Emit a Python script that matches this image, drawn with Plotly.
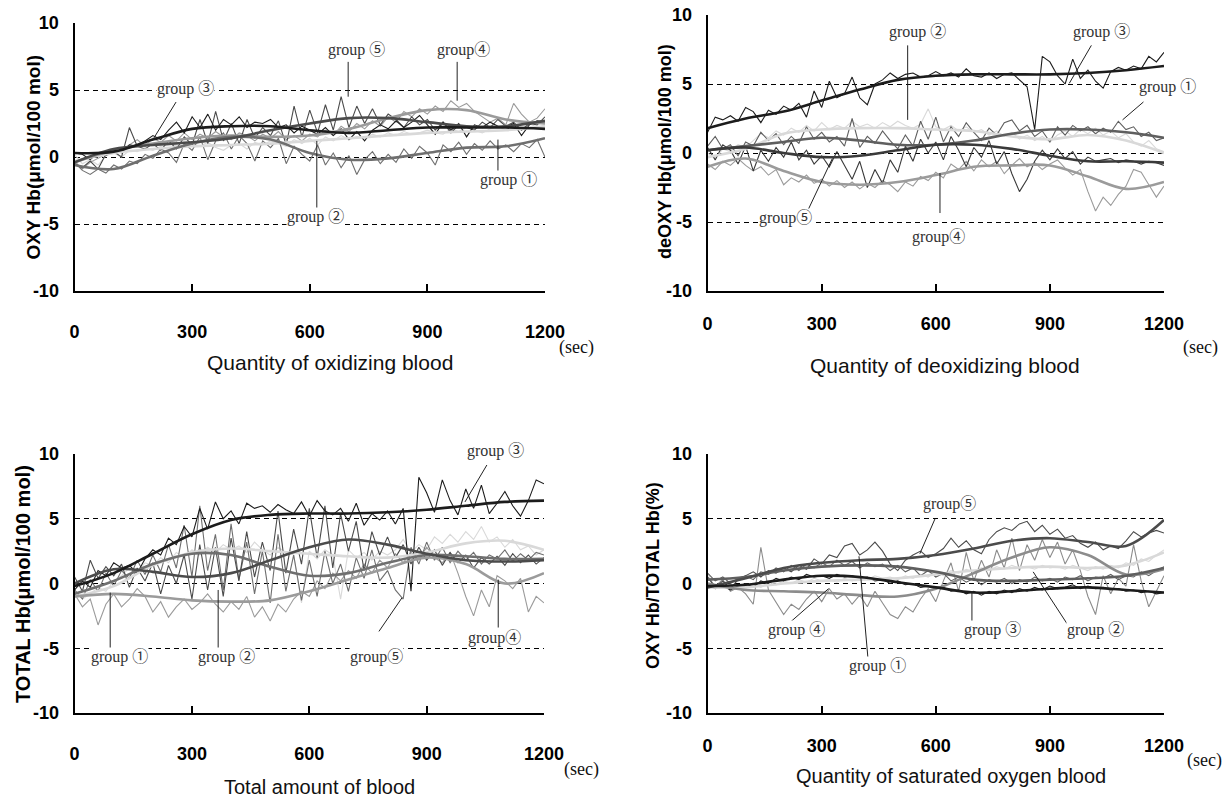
import numpy as np
import plotly.graph_objects as go

W, H = 1226, 797

# ---------------- data ----------------
T_SMOOTH = [0, 100, 200, 300, 400, 500, 600, 700, 800, 900, 1000, 1100, 1200]
X_TICKS = [0, 300, 600, 900, 1200]
Y_TICKS = [-10, -5, 0, 5, 10]
Y_TICK_TEXT = ["-10", "-5", "0", "5", "10"]

# Panel 1 : OXY Hb
P1_G1_RAW = [0.2, -0.5, -0.2, -0.6, 0.1, 0.3, 0.0, 0.5, 0.4, 0.7,
             0.5, 0.8, 0.6, 0.9, 0.7, 1.0, 0.8, 1.1, 0.7, 0.5,
             0.9, 1.0, 0.6, 1.1, 0.9, 1.2, 1.0, 0.8, 1.3, 1.0,
             1.4, 0.9, 1.5, 1.2, 1.6, 1.3, 1.5, 1.4, 1.7, 1.5,
             1.8, 1.6, 1.9, 1.7, 1.8, 2.0, 1.8, 1.7, 2.1, 1.9,
             2.2, 2.0, 1.8, 2.1, 2.3, 2.0, 2.4, 2.1, 2.5, 2.2,
             2.4]
P1_G2_RAW = [-0.4, -1.0, -1.3, -0.9, -1.2, -0.6, -0.9, -0.3, -0.5, 0.2,
             -0.1, 0.6, 0.3, -0.4, 1.0, 0.5, 1.5, -0.2, 1.2, 1.8,
             0.6, 1.6, 1.0, -0.3, 1.2, 0.7, 1.4, -0.5, 0.8, 0.2,
             -0.3, 0.9, -0.6, 0.3, -0.8, 0.1, -1.3, -0.2, 0.4, -0.5,
             0.2, -0.4, 0.6, -0.1, 0.8, 0.3, -0.6, 0.9, 0.4, 1.1,
             0.2, 1.0, 0.5, 1.2, 0.6, 0.9, 0.4, 1.0, 0.7, 1.3,
             0.0]
P1_G3_RAW = [0.3, 0.2, -0.2, 0.3, 0.1, 0.5, 0.4, 0.9, 0.8, 1.2,
             1.6, 1.3, 2.0, 2.6, 1.8, 3.0, 2.2, 3.2, 2.0, 2.8,
             2.4, 3.0, 2.2, 2.6, 2.5, 2.8, 2.2, 2.4, 1.8, 2.3,
             2.0, 1.7, 2.2, 1.6, 2.1, 1.3, 1.9, 1.2, 2.0, 2.4,
             2.1, 2.7, 2.2, 2.6, 3.1, 2.4, 1.7, 2.6, 2.0, 2.5,
             1.5, 2.4, 2.2, 2.6, 2.3, 2.2, 2.5, 1.6, 2.4, 2.7,
             2.6]
P1_G4_RAW = [-0.3, -0.9, -0.4, -0.1, 0.2, 0.6, 0.3, 0.9, 1.3, 0.8,
             1.4, 1.1, 1.6, 1.2, 1.8, 1.3, 1.7, 1.4, 1.9, 1.5,
             1.3, 1.8, 1.6, 1.2, 1.7, 1.4, 1.9, 1.3, 1.6, 1.2,
             1.7, 1.5, 2.0, 1.6, 2.3, 1.9, 2.5, 2.1, 2.7, 2.3,
             3.0, 2.6, 3.4, 3.0, 3.6, 3.2, 3.8, 3.4, 4.2, 3.7,
             4.0, 3.4, 3.0, 2.6, 2.9, 2.4, 4.0, 3.2, 2.6, 2.9,
             3.6]
P1_G5_RAW = [-0.5, -0.8, -0.3, -0.9, 0.2, 0.4, 0.0, 2.2, 0.8, 0.6,
             1.0, 0.5, 1.2, 0.6, 1.5, 0.9, 2.8, 1.0, 3.4, 1.2,
             2.5, 1.0, 2.8, 1.4, 2.2, 1.6, 2.7, 0.9, 3.8, 1.5,
             3.5, 1.8, 3.9, 2.0, 4.5, 2.2, 3.8, 2.5, 3.6, 2.4,
             3.2, 2.8, 2.2, 3.0, 2.4, 2.8, 2.0, 2.6, 1.8, 2.4,
             2.2, 2.0, 2.6, 2.2, 2.8, 2.3, 2.6, 2.0, 2.5, 2.4,
             3.0]
P1_G1_FIT = [-0.3, 0.3, 0.6, 0.8, 0.9, 1.0, 1.2, 1.4, 1.6, 1.8, 1.9, 2.0, 2.3]
P1_G2_FIT = [-0.6, -0.9, 0.1, 1.0, 1.5, 1.3, 0.3, -0.2, -0.1, 0.3, 0.7, 0.8, 1.4]
P1_G3_FIT = [0.3, 0.4, 1.3, 2.1, 2.3, 2.3, 2.0, 1.8, 2.0, 2.2, 2.2, 2.2, 2.1]
P1_G4_FIT = [-0.4, 0.5, 1.0, 1.4, 1.6, 1.5, 1.6, 2.1, 2.9, 3.5, 3.5, 2.8, 2.5]
P1_G5_FIT = [-0.4, 0.6, 0.9, 1.1, 1.4, 2.0, 2.5, 2.9, 2.9, 2.6, 2.3, 2.3, 2.7]

# Panel 2 : deOXY Hb
P2_G1_RAW = [0.5, 1.2, 0.3, 0.6, -0.2, 0.8, 0.5, 1.5, 0.9, 1.4,
             0.6, 1.2, 0.7, 1.9, 1.0, 1.5, 0.8, 1.2, 0.5, 2.5,
             0.4, 1.2, 0.7, 1.6, 0.9, 0.3, 1.3, 0.5, 2.3, 1.0,
             2.6, 0.8, 1.9, 1.2, 2.2, 1.5, 0.9, 1.8, 1.3, 2.2,
             2.4, 1.6, 2.0, 1.2, 1.6, 0.8, 1.9, 1.3, 2.0, 1.6,
             1.9, 1.4, 1.8, 1.5, 2.3, 1.7, 1.9, 1.2, 1.5, 0.9,
             1.1]
P2_G2_RAW = [0.0, -0.4, 0.3, 0.1, 0.6, 0.4, 0.9, 1.4, 1.1, 1.6,
             1.3, 1.8, 1.5, 2.0, 1.6, 2.2, 1.7, 2.0, 1.8, 2.3,
             1.9, 2.1, 1.8, 2.2, 1.9, 2.3, 2.0, 1.8, 2.1, 3.2,
             1.9, 1.7, 2.0, 1.6, 1.9, 1.5, 1.7, 1.3, 1.6, 1.2,
             1.5, 1.0, 1.3, 0.9, 1.2, 0.8, 1.3, 1.6, 1.2, 1.7,
             1.4, 1.8, 1.3, 1.6, 1.1, 1.4, 0.8, 0.5, 0.9, 0.3,
             0.1]
P2_G3_RAW = [1.5, 2.6, 2.4, 2.7, 2.3, 3.3, 3.0, 2.2, 3.1, 2.8,
             3.4, 3.1, 3.6, 2.6, 4.5, 3.3, 5.2, 4.0, 4.3, 5.5,
             4.0, 3.5, 5.0, 5.3, 5.8, 5.4, 5.7, 5.8, 5.5, 5.6,
             5.9, 5.6, 5.8, 5.5, 6.1, 5.6, 5.5, 5.8, 5.4, 5.7,
             5.8, 5.3, 4.8, 1.7, 7.0, 6.6, 5.6, 5.0, 6.8, 5.4,
             6.0, 5.2, 4.7, 5.9, 6.2, 6.0, 6.3, 6.1, 7.0, 6.6,
             7.3]
P2_G4_RAW = [-0.8, -1.2, -0.6, -0.9, -0.4, -0.9, -1.3, -1.0, -1.6, -1.2,
             -2.3, -1.8, -2.1, -1.6, -2.2, -1.9, -2.4, -2.0, -2.5, -2.1,
             -2.6, -2.2, -2.5, -2.0, -2.3, -2.8, -2.1, -2.4, -1.7, -2.0,
             -1.4, -1.8, -0.8, -1.2, -0.6, -1.3, -0.5, -1.0, -0.6, -1.5,
             -0.9, -0.4, -1.0, -0.7, -1.2, -0.8, -0.5, -1.1, -1.6, -1.2,
             -2.8, -4.2, -3.2, -3.8, -3.0, -2.4, -1.2, -1.4, -2.3, -3.2,
             -2.4]
P2_G5_RAW = [0.4, -0.5, 0.6, 0.2, -0.8, 0.5, -1.3, 0.2, -0.6, 0.4,
             -0.3, 0.8, -0.5, 0.2, -0.8, -0.2, -1.0, 0.1, -0.9, -1.9,
             -0.6, -2.5, -1.2, -2.2, -0.5, -1.4, 0.5, -0.6, 1.0, 0.0,
             0.8, -0.5, 1.2, 0.2, -1.0, 0.4, -0.3, 0.9, -0.8, 0.1,
             -1.5, -2.8, -1.9, -0.6, 0.2, -0.5, 0.3, -0.4, 0.1, -0.8,
             -0.3, -0.6, -0.5, -0.4, -0.7, -0.5, -0.6, -0.8, -0.6, -0.7,
             -0.9]
P2_G1_FIT = [0.2, 0.5, 0.8, 1.1, 0.9, 0.6, 0.6, 0.9, 1.4, 1.7, 1.7, 1.5, 1.1]
P2_G2_FIT = [-0.3, 0.3, 1.4, 1.7, 1.8, 1.8, 1.7, 1.6, 1.2, 1.0, 1.3, 0.9, 0.0]
P2_G3_FIT = [1.8, 2.5, 3.0, 3.8, 4.6, 5.3, 5.6, 5.7, 5.7, 5.7, 5.8, 6.0, 6.3]
P2_G4_FIT = [-1.0, -0.4, -1.3, -2.1, -2.3, -2.1, -1.6, -1.0, -0.9, -0.9, -1.7, -2.6, -2.1]
P2_G5_FIT = [0.2, 0.4, 0.0, -0.3, -0.2, 0.2, 0.6, 0.6, 0.3, -0.2, -0.6, -0.6, -0.7]

# Panel 3 : TOTAL Hb
P3_G1_RAW = [-0.6, -1.2, -0.8, -0.3, -0.6, 0.2, 0.6, 1.2, 0.8, 1.6,
             1.4, 2.0, 1.6, 2.4, 2.0, 2.6, 2.2, 2.8, 2.4, 3.0,
             2.6, 2.9, 2.4, 3.2, 2.6, 2.2, 2.8, 2.4, 2.2, -1.5,
             2.5, 1.9, 2.6, 2.2, -1.2, 2.6, 2.0, 2.4, 1.8, 2.5,
             2.2, 2.6, 3.4, 2.4, 3.0, 2.6, 3.6, 3.1, 3.8, 3.2,
             4.0, 3.4, 4.4, 3.2, 3.6, 2.8, 3.4, 2.6, 2.9, 2.2,
             2.6]
P3_G2_RAW = [0.5, -0.6, 1.8, 0.4, 1.3, 0.6, 1.5, -0.3, 1.2, 0.2,
             1.6, -0.8, 1.4, 0.0, 2.2, -1.2, 3.0, -0.5, 2.8, -1.0,
             3.5, 0.2, 4.0, 0.5, 3.2, 1.0, 5.6, 0.8, 4.2, 1.5,
             5.8, 2.0, 6.0, 1.2, 5.4, 2.5, 4.8, 1.0, 4.0, 2.2,
             3.6, 2.0, 3.0, 1.5, 2.8, 1.8, 2.6, 1.4, 2.4, 1.6,
             2.2, 1.2, 2.0, 1.5, 2.1, 1.4, 2.3, 1.6, 2.2, 1.5,
             2.0]
P3_G3_RAW = [-0.5, 0.2, -0.3, 1.0, 0.6, 1.6, 1.2, 1.4, 0.8, 1.9,
             2.6, 2.2, 3.5, 3.0, 4.4, 3.6, 5.8, 4.2, 6.3, 5.0,
             5.6, 4.6, 6.2, 5.8, 6.0, 5.5, 6.1, 5.7, 5.4, 6.3,
             5.2, 6.4, 5.6, 5.3, 5.8, 4.8, 6.2, 4.5, 5.4, 4.9,
             5.6, 4.6, 5.8, -0.6, 8.2, 7.0, 5.5, 8.0, 6.4, 5.3,
             7.3, 5.8, 7.6, 5.4, 6.2, 7.1, 6.0, 5.2, 6.4, 8.0,
             7.7]
P3_G4_RAW = [-0.8, -1.8, -1.2, -3.2, -1.6, -0.8, -1.8, -1.2, -0.4, -1.0,
             -2.2, -1.4, -2.6, -1.8, -1.2, -2.0, -1.5, -0.8, -1.6, -2.2,
             -1.4, -2.0, -1.0, -2.6, -1.8, -2.9, -1.6, -2.2, -1.2, -0.6,
             -1.0, 0.2, -0.4, 0.8, 0.2, 1.0, 0.4, 1.5, 0.8, 1.8,
             1.2, 2.3, 1.6, 2.4, 1.8, 2.8, 2.0, 1.6, 2.4, 0.8,
             -1.0, -2.5, -0.5, -1.8, 0.6, 0.2, -0.4, 0.4, -2.2, -1.0,
             -1.5]
P3_G5_RAW = [-0.5, -1.2, 0.3, -0.6, 0.8, -0.2, 1.0, 0.4, 1.8, 0.7,
             2.2, 0.9, 3.0, 1.2, 4.5, 0.5, 6.0, 1.0, 3.8, -0.5,
             4.6, 0.3, 3.2, -0.8, 2.5, -1.5, 3.8, -0.6, 2.2, -1.3,
             1.8, -1.0, 2.5, 0.0, 1.5, -0.6, 2.0, 0.4, 2.6, 0.2,
             1.0, -0.5, -1.2, 2.8, 1.5, 3.2, 1.8, 2.8, 1.6, 2.5,
             1.8, 2.4, 1.5, 2.2, 1.9, 2.6, 1.7, 2.3, 1.8, 2.4,
             2.2]
P3_G1_FIT = [-1.0, -0.2, 1.4, 2.4, 2.7, 2.5, 2.3, 2.1, 2.0, 2.4, 3.1, 3.3, 2.6]
P3_G2_FIT = [0.0, 1.1, 0.9, 0.5, 0.8, 1.8, 2.8, 3.4, 3.0, 2.3, 1.8, 1.7, 1.8]
P3_G3_FIT = [-0.2, 0.8, 2.3, 3.8, 4.9, 5.3, 5.4, 5.4, 5.5, 5.7, 6.0, 6.3, 6.4]
P3_G4_FIT = [-1.0, -0.8, -1.0, -1.3, -1.4, -1.3, -0.6, 0.3, 1.2, 2.0, 1.5, 0.0, 0.8]
P3_G5_FIT = [-0.8, 0.2, 1.5, 2.3, 2.2, 1.3, 0.6, 0.8, 1.6, 2.2, 2.1, 1.9, 1.9]

# Panel 4 : OXY Hb / TOTAL Hb
P4_G1_RAW = [0.8, 0.2, 0.5, 0.0, 0.4, 0.6, 0.3, 0.9, 0.7, 1.2,
             0.9, 1.4, 1.0, 1.5, 1.2, 1.6, 1.3, 1.8, 1.4, 1.7,
             1.2, 1.6, 1.3, 1.5, 1.0, 1.4, 0.9, 1.2, 0.6, 1.0,
             0.5, 0.8, 0.2, 0.5, 0.1, 0.4, -0.1, 0.3, 0.1, 0.4,
             0.0, 0.3, 0.1, 0.5, 0.2, 0.4, 0.1, 0.5, 0.3, 0.6,
             0.2, 0.5, 0.4, 0.7, 0.3, 0.6, 0.5, 0.9, 0.6, 1.0,
             1.3]
P4_G2_RAW = [0.8, -0.4, 0.2, -0.5, -0.2, -0.4, 0.0, -0.3, 0.1, -0.1,
             0.2, 0.0, 0.3, 0.1, 0.4, 0.2, 0.3, 0.1, 0.4, 0.2,
             0.5, 0.3, 0.6, 0.4, 0.5, 0.3, 0.6, 0.4, 0.7, 0.5,
             0.9, 0.6, 1.0, 0.8, 1.1, 0.9, 1.2, 1.0, 1.3, 1.1,
             1.4, 1.2, 1.3, 1.1, 1.4, 1.2, 1.3, 1.1, 1.4, 1.2,
             1.0, 1.3, 1.1, 1.4, 1.2, 1.6, 1.4, 1.9, 1.7, 2.2,
             2.6]
P4_G3_RAW = [-0.1, -0.4, -0.2, -0.5, -0.2, 0.0, -0.3, 0.2, 0.0, 0.4,
             0.2, 0.5, 0.3, 0.7, 0.5, 0.6, 0.4, 0.7, 0.5, 0.6,
             0.4, 0.5, 0.2, 0.3, 0.0, 0.2, -0.1, 0.0, -0.3, -0.2,
             -0.4, -0.3, -0.6, -0.5, -0.8, -0.6, -0.9, -0.6, -0.8, -0.5,
             -0.7, -0.4, -0.6, -0.3, -0.5, -0.2, -0.4, -0.3, -0.1, -0.4,
             -0.2, -0.4, -0.3, -0.5, -0.4, -0.6, -0.5, -0.7, -0.6, -0.8,
             -0.7]
P4_G4_RAW = [0.5, -0.2, 0.3, -0.6, -0.3, -0.8, -1.6, 2.8, -0.5, -1.5,
             -2.4, -1.6, -2.0, -1.2, -0.6, -1.4, -0.4, -1.2, -0.8, -1.6,
             -0.9, -1.8, -0.6, -1.5, -2.4, -2.7, -1.8, -2.2, -1.2, -0.4,
             -1.4, 0.2, 1.6, -0.6, 2.4, 0.2, 1.8, 0.5, 2.6, 1.2,
             3.5, 1.0, 3.0, 1.8, 3.4, 2.0, 3.2, 1.5, 2.6, 1.0,
             -1.0, -2.4, 0.6, -0.8, 0.4, -0.2, 3.0, 0.2, -1.8, -0.6,
             0.6]
P4_G5_RAW = [0.5, -0.3, 0.2, -0.4, 0.3, 0.6, 0.9, 0.5, 1.0, 0.8,
             1.2, 0.9, 1.4, 1.1, 1.9, 1.5, 2.2, 2.0, 2.9, 3.1,
             2.2, 2.6, 3.2, 2.5, 1.5, 1.0, 1.8, 2.2, 2.5, 2.0,
             2.3, 2.7, 3.5, 2.8, 3.3, 2.6, 2.3, 3.4, 4.0, 4.3,
             4.1, 4.6, 4.8, 4.0, 4.5, 3.8, 4.2, 3.5, 3.7, 3.1,
             2.8, 3.2, 2.6, 2.9, 2.7, 3.3, 4.0, 3.6, 3.9, 4.1,
             3.9]
P4_G1_FIT = [0.3, 0.5, 1.0, 1.3, 1.4, 1.3, 0.9, 0.3, 0.2, 0.3, 0.4, 0.6, 1.2]
P4_G2_FIT = [-0.3, -0.3, 0.0, 0.2, 0.3, 0.4, 0.7, 1.0, 1.2, 1.3, 1.2, 1.4, 2.4]
P4_G3_FIT = [-0.2, -0.1, 0.3, 0.6, 0.5, 0.1, -0.3, -0.7, -0.6, -0.4, -0.3, -0.5, -0.7]
P4_G4_FIT = [0.0, -0.5, -0.6, -0.7, -0.9, -1.0, -0.4, 0.8, 2.0, 2.8, 2.2, 0.7, 1.1]
P4_G5_FIT = [-0.3, 0.4, 1.2, 1.6, 1.8, 1.9, 2.2, 2.7, 3.3, 3.5, 3.2, 2.9, 4.9]

# ---------------- styles ----------------
BLACK = "#1c1c1c"
DARK = "#4b4b4b"
DARK2 = "#3a3a3a"
MID = "#6f6f6f"
MID2 = "#5f5f5f"
LIGHT = "#9b9b9b"
LIGHT2 = "#8c8c8c"
VLIGHT = "#d9d9d9"

SERIF = "Liberation Serif, Noto Sans CJK JP, serif"
SANS = "Liberation Sans, Arial, sans-serif"


def pxx(x):
    return x / W


def pxy(y):
    return 1 - y / H


panels = [
    dict(
        sfx="", ydom=(23, 291), xdom=(74.5, 545),
        raw=[P1_G1_RAW, P1_G2_RAW, P1_G3_RAW, P1_G4_RAW, P1_G5_RAW],
        fit=[P1_G1_FIT, P1_G2_FIT, P1_G3_FIT, P1_G4_FIT, P1_G5_FIT],
        colors=[VLIGHT, MID, BLACK, LIGHT, DARK],
        order=[0, 3, 1, 4, 2],
        ytitle="OXY Hb(μmol/100 mol)", ytitle_pos=(32.5, 158), ytitle_size=19,
        xtitle="Quantity of oxidizing blood", xtitle_pos=(330, 362), xtitle_size=21,
        sec_pos=(576, 348), standoff=23,
        labels=[("group ③", 282, 5.1), ("group ⑤", 718, 8.0), ("group④", 991, 8.0),
                ("group ②", 615, -4.5), ("group ①", 1106, -1.75)],
        pointers=[(259, 4.1, 200, 1.3), (698, 7.1, 698, 4.5), (976, 7.1, 976, 4.2),
                  (618, -3.9, 618, 1.2), (1080, -1.1, 1080, 1.3)],
    ),
    dict(
        sfx="2", ydom=(15, 291), xdom=(707.6, 1164),
        raw=[P2_G1_RAW, P2_G2_RAW, P2_G3_RAW, P2_G4_RAW, P2_G5_RAW],
        fit=[P2_G1_FIT, P2_G2_FIT, P2_G3_FIT, P2_G4_FIT, P2_G5_FIT],
        colors=[MID2, VLIGHT, BLACK, LIGHT, DARK2],
        order=[1, 3, 0, 4, 2],
        ytitle="deOXY Hb(μmol/100 mol)", ytitle_pos=(665, 152), ytitle_size=18,
        xtitle="Quantity of deoxidizing blood", xtitle_pos=(945, 365), xtitle_size=21,
        sec_pos=(1200, 348), standoff=15,
        labels=[("group ②", 551, 8.77), ("group ③", 1035, 8.77), ("group ①", 1208, 4.78),
                ("group⑤", 206, -4.7), ("group④", 606, -6.1)],
        pointers=[(526, 7.8, 526, 2.4), (1009, 7.8, 951, 5.05), (1146, 3.7, 1091, 2.4),
                  (256, -4.6, 328, -0.4), (611, -4.35, 611, -1.45)],
    ),
    dict(
        sfx="3", ydom=(454, 713), xdom=(74.6, 544),
        raw=[P3_G1_RAW, P3_G2_RAW, P3_G3_RAW, P3_G4_RAW, P3_G5_RAW],
        fit=[P3_G1_FIT, P3_G2_FIT, P3_G3_FIT, P3_G4_FIT, P3_G5_FIT],
        colors=[VLIGHT, DARK, BLACK, LIGHT, MID],
        order=[0, 3, 4, 1, 2],
        ytitle="TOTAL Hb(μmol/100 mol)", ytitle_pos=(23, 584), ytitle_size=20,
        xtitle="Total amount of blood", xtitle_pos=(319, 787), xtitle_size=20,
        sec_pos=(581, 769), standoff=23,
        labels=[("group ①", 116, -5.68), ("group ②", 389, -5.68), ("group⑤", 773, -5.68),
                ("group④", 1073, -4.2), ("group ③", 1075, 10.25)],
        pointers=[(91, -5.1, 91, -0.7), (367, -5.1, 367, -0.5), (778, -3.7, 837, -1.1),
                  (1083, -3.4, 1083, 0.3), (1054, 9.15, 998, 6.3)],
    ),
    dict(
        sfx="4", ydom=(454, 713), xdom=(707.6, 1164),
        raw=[P4_G1_RAW, P4_G2_RAW, P4_G3_RAW, P4_G4_RAW, P4_G5_RAW],
        fit=[P4_G1_FIT, P4_G2_FIT, P4_G3_FIT, P4_G4_FIT, P4_G5_FIT],
        colors=[MID2, VLIGHT, BLACK, LIGHT2, DARK],
        order=[1, 3, 0, 4, 2],
        ytitle="OXY Hb/TOTAL Hb(%)", ytitle_pos=(653, 576), ytitle_size=18,
        xtitle="Quantity of saturated oxygen blood", xtitle_pos=(951, 776), xtitle_size=20,
        sec_pos=(1204, 760), standoff=15,
        labels=[("group⑤", 637, 6.14), ("group ④", 233, -3.6), ("group ①", 446, -6.4),
                ("group ③", 750, -3.6), ("group ②", 1019, -3.6)],
        pointers=[(598, 5.0, 558, 2.3), (209, -3.2, 318, -0.4), (422, -5.9, 398, 2.1),
                  (695, -3.2, 695, -0.6), (945, -3.1, 856, 0.9)],
    ),
]

fig = go.Figure()
annotations = []
shapes = []

for p in panels:
    sfx = p["sfx"]
    xa, ya = "x" + sfx, "y" + sfx
    for gi in p["order"]:
        vals = p["raw"][gi]
        tx = np.linspace(0, 1200, len(vals))
        fig.add_trace(go.Scatter(x=tx, y=vals, mode="lines", xaxis=xa, yaxis=ya,
                                 line=dict(color=p["colors"][gi], width=1.1),
                                 hoverinfo="skip", showlegend=False))
    for gi in p["order"]:
        fig.add_trace(go.Scatter(x=T_SMOOTH, y=p["fit"][gi], mode="lines", xaxis=xa, yaxis=ya,
                                 line=dict(color=p["colors"][gi], width=2.6, shape="spline", smoothing=1.0),
                                 hoverinfo="skip", showlegend=False))

    xd = [pxx(p["xdom"][0]), pxx(p["xdom"][1])]
    yd = [pxy(p["ydom"][1]), pxy(p["ydom"][0])]
    fig.layout["xaxis" + sfx] = dict(
        domain=xd, anchor=ya, range=[0, 1200], tickvals=X_TICKS, automargin=False,
        showline=True, linecolor="black", linewidth=2,
        ticks="inside", ticklen=7, tickwidth=2, tickcolor="black",
        showgrid=False, zeroline=False, fixedrange=True,
        ticklabelstandoff=p["standoff"],
        tickfont=dict(family=SANS, size=18, color="black", weight="bold"),
    )
    fig.layout["yaxis" + sfx] = dict(
        domain=yd, anchor=xa, range=[-10, 10], tickvals=Y_TICKS, ticktext=Y_TICK_TEXT,
        automargin=False,
        showline=True, linecolor="black", linewidth=2, ticks="",
        showgrid=True, gridcolor="black", gridwidth=1, griddash="5px,4px",
        zeroline=False, fixedrange=True, ticklabelstandoff=10,
        tickfont=dict(family=SANS, size=18, color="black", weight="bold"),
    )

    def to_paper(s, v, xd=xd, yd=yd):
        return (xd[0] + s / 1200.0 * (xd[1] - xd[0]),
                yd[0] + (v + 10) / 20.0 * (yd[1] - yd[0]))

    tx_, ty_ = p["ytitle_pos"]
    annotations.append(dict(text=p["ytitle"], x=pxx(tx_), y=pxy(ty_), xref="paper", yref="paper",
                            showarrow=False, textangle=-90, xanchor="center", yanchor="middle",
                            font=dict(family=SANS, size=p["ytitle_size"], color="black", weight="bold")))
    tx_, ty_ = p["xtitle_pos"]
    annotations.append(dict(text=p["xtitle"], x=pxx(tx_), y=pxy(ty_), xref="paper", yref="paper",
                            showarrow=False, xanchor="center", yanchor="middle",
                            font=dict(family=SANS, size=p["xtitle_size"], color="#111")))
    tx_, ty_ = p["sec_pos"]
    annotations.append(dict(text="(sec)", x=pxx(tx_), y=pxy(ty_), xref="paper", yref="paper",
                            showarrow=False, xanchor="center", yanchor="middle",
                            font=dict(family=SERIF, size=18, color="#111")))

    for (x0, y0, x1, y1) in p["pointers"]:
        shapes.append(dict(type="line", xref=xa, yref=ya, x0=x0, y0=y0, x1=x1, y1=y1,
                           line=dict(color="#222", width=1)))
    for (txt, gx, gy) in p["labels"]:
        ax_, ay_ = to_paper(gx, gy)
        annotations.append(dict(text=txt, x=ax_, y=ay_, xref="paper", yref="paper", showarrow=False,
                                xanchor="center", yanchor="middle", bgcolor="white", borderpad=0,
                                font=dict(family=SERIF, size=16, color="#333")))

fig.update_layout(
    width=W, height=H, margin=dict(l=0, r=0, t=0, b=0, autoexpand=False),
    paper_bgcolor="white", plot_bgcolor="white", showlegend=False,
    annotations=annotations, shapes=shapes,
)

fig.write_html("out.html")
